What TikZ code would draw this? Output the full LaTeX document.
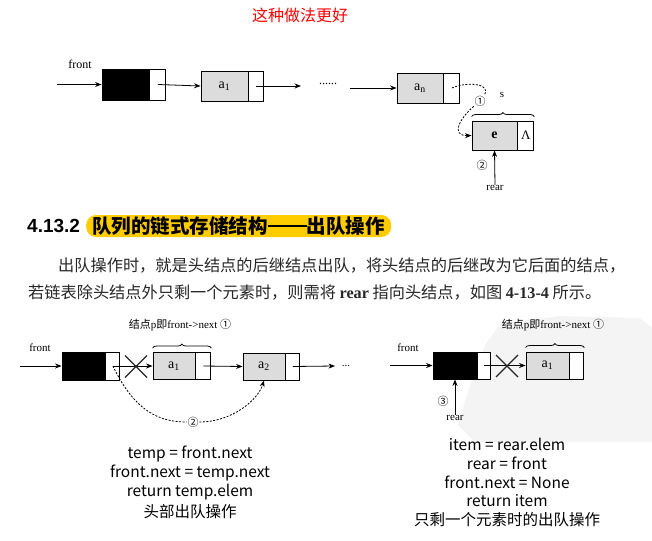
\documentclass[tikz,border=0pt]{standalone}
\usepackage{fontspec}
\setmainfont{Liberation Serif}
\newfontfamily\cjk{Noto Sans CJK SC}
\newfontfamily\hsans{Liberation Sans}
\usetikzlibrary{arrows.meta,decorations.pathreplacing}
\definecolor{nodegray}{RGB}{220,220,220}
\definecolor{hl}{RGB}{255,204,0}
\definecolor{titlered}{RGB}{255,0,0}
\newcommand{\cjkdash}{\rule[0.33em]{2em}{0.09em}}
\tikzset{
  arr/.style={-{Stealth[length=6.5pt,width=5pt]}, line width=0.8pt},
  datab/.style={draw, line width=0.9pt, fill=nodegray, minimum height=30pt, inner sep=0pt, font=\fontsize{14}{14}\selectfont},
  headb/.style={draw, line width=0.9pt, fill=black, minimum height=30pt, inner sep=0pt},
  ptrb/.style={draw, line width=0.9pt, fill=white, minimum height=30pt, inner sep=0pt, anchor=west},
  lbl/.style={font=\fontsize{11}{11}\selectfont, inner sep=0pt},
  circ/.style={font=\cjk\fontsize{11}{11}\selectfont, inner sep=0.6pt, fill=white},
  dashcon/.style={dashed, line width=0.8pt, dash pattern=on 2pt off 1.5pt},
  brc/.style={decorate, decoration={brace, amplitude=4pt}, line width=0.8pt},
  crossln/.style={line width=1.3pt, black!85},
  codetxt/.style={font=\cjk\fontsize{15.5}{15.5}\selectfont, inner sep=0pt},
  paratxt/.style={font=\cjk\fontsize{16.2}{16.2}\selectfont, inner sep=0pt, anchor=west, text=black!85}
}
\begin{document}
\begin{tikzpicture}[x=1pt,y=-1pt]
\useasboundingbox (0,0) rectangle (652,540);

% watermark
\fill[gray!9] (500,324) -- (560,316) -- (640,318) -- (652,328) -- (652,442) -- (475,442) -- (458,425) -- (470,385) -- (485,345) -- cycle;

% title
\node[text=titlered, font=\cjk\fontsize{16}{16}\selectfont] (title) at (300,15) {这种做法更好};

% ---------- top diagram ----------
\node[lbl, font=\fontsize{12}{12}\selectfont] (frontT) at (80,64) {front};
\node[headb, minimum width=47pt, minimum height=31pt] (hT) at (125.5,84.5) {};
\node[ptrb, minimum width=16pt, minimum height=31pt] (hTp) at (hT.east) {};
\node[datab, minimum width=47pt] (a1T) at (224.5,86) {a\textsubscript{1}};
\node[ptrb, minimum width=15pt] (a1Tp) at (a1T.east) {};
\node[datab, minimum width=46pt] (anT) at (420,88) {a\textsubscript{n}};
\node[ptrb, minimum width=16pt] (anTp) at (anT.east) {};
\node[datab, minimum width=45pt, minimum height=29pt, font=\bfseries\fontsize{14}{14}\selectfont] (eT) at (494.5,135.5) {e};
\node[ptrb, minimum width=16pt, minimum height=29pt, font=\fontsize{13}{13}\selectfont] (eTp) at (eT.east) {Λ};
\node[font=\fontsize{12}{12}\selectfont, inner sep=0pt] (dotsT) at (328,84) {......};
\node[lbl] (sT) at (502,95) {s};
\node[circ] (c1T) at (480,101) {①};
\node[circ] (c2T) at (482,165) {②};
\node[lbl] (rearT) at (495,188) {rear};
\coordinate (fT) at (57,84.5);
\coordinate (d1) at (301,86);
\coordinate (d2) at (350,88);

\draw[arr] (fT) -- (hT.west);
\draw[arr] (hTp.center) -- (a1T.west);
\draw[arr] (a1Tp.center) -- (d1);
\draw[arr] (d2) -- (anT.west);
\draw[brc] ([yshift=4pt]eT.north west) -- ([yshift=4pt]eTp.north east);
\draw[dashcon] (anTp.center) .. controls (468,81) and (492,84) .. (c1T);
\draw[dashcon, arr] (c1T) .. controls (460,118) and (450,136) .. (eT.west);
\draw[arr] (rearT.north) -- (eT.south);

% ---------- heading ----------
\node[anchor=west, inner sep=0pt, font=\hsans\bfseries\fontsize{19}{19}\selectfont] (secnum) at (27,226) {4.13.2};
\node[anchor=west, fill=hl, rounded corners=10pt, minimum height=22pt, minimum width=305pt, inner xsep=3pt, inner ysep=0pt,
      font=\cjk\bfseries\fontsize{19.5}{19.5}\selectfont] (sectitle) at (86,226) {队列的链式存储结构\cjkdash 出队操作};

\node[paratxt] (para1) at (58,266) {出队操作时，就是头结点的后继结点出队，将头结点的后继改为它后面的结点，};
\node[paratxt] (para2) at (28,293) {若链表除头结点外只剩一个元素时，则需将 {\rmfamily\bfseries rear} 指向头结点，如图 {\rmfamily\bfseries 4-13-4} 所示。};

% ---------- bottom left diagram ----------
\node[lbl] (lblL) at (180,325) {{\cjk 结点}p{\cjk 即}front->next {\cjk ①}};
\node[lbl] (frontL) at (40,348) {front};
\node[headb, minimum width=43pt, minimum height=28pt] (hL) at (83.5,366) {};
\node[ptrb, minimum width=14pt, minimum height=28pt] (hLp) at (hL.east) {};
\node[datab, minimum width=42pt, minimum height=27pt] (a1L) at (174,366) {a\textsubscript{1}};
\node[ptrb, minimum width=15pt, minimum height=27pt] (a1Lp) at (a1L.east) {};
\node[datab, minimum width=42pt, minimum height=27pt] (a2L) at (264,366.5) {a\textsubscript{2}};
\node[ptrb, minimum width=14pt, minimum height=27pt] (a2Lp) at (a2L.east) {};
\node[font=\fontsize{11}{11}\selectfont, inner sep=0pt] (dotsL) at (346,366) {...};
\node[circ] (c2L) at (193,422) {②};
\coordinate (fL) at (20,366);
\coordinate (eL) at (335,366);
\coordinate (xL) at (136,366.5);

\draw[arr] (fL) -- (hL.west);
\draw[arr] (hLp.center) -- (a1L.west);
\draw[arr] (a1Lp.center) -- (a2L.west);
\draw[arr] (a2Lp.center) -- (eL);
\draw[crossln] ([shift={(-11,-11)}]xL) -- ([shift={(11,11)}]xL);
\draw[crossln] ([shift={(-11,11)}]xL) -- ([shift={(11,-11)}]xL);
\draw[brc] ([yshift=4pt]a1L.north west) -- ([yshift=4pt]a1Lp.north east);
\draw[dashcon] (hLp.center) .. controls (135,412) and (160,422) .. (c2L);
\draw[dashcon, arr] (c2L) .. controls (232,422) and (258,400) .. (a2L.south);

% ---------- bottom right diagram ----------
\node[lbl] (lblR) at (553,325) {{\cjk 结点}p{\cjk 即}front->next {\cjk ①}};
\node[lbl] (frontR) at (408,348) {front};
\node[headb, minimum width=44pt, minimum height=27pt] (hR) at (455,365.5) {};
\node[ptrb, minimum width=13pt, minimum height=27pt] (hRp) at (hR.east) {};
\node[datab, minimum width=43pt, minimum height=27pt] (a1R) at (547.5,365.5) {a\textsubscript{1}};
\node[ptrb, minimum width=14pt, minimum height=27pt] (a1Rp) at (a1R.east) {};
\node[circ, fill=none] (c3R) at (443,401) {③};
\node[lbl] (rearR) at (455,418) {rear};
\coordinate (fR) at (390,365.5);
\coordinate (xR) at (507,366);

\draw[arr] (fR) -- (hR.west);
\draw[arr] (hRp.center) -- (a1R.west);
\draw[crossln] ([shift={(-11,-11)}]xR) -- ([shift={(11,11)}]xR);
\draw[crossln] ([shift={(-11,11)}]xR) -- ([shift={(11,-11)}]xR);
\draw[brc] ([yshift=4pt]a1R.north west) -- ([yshift=4pt]a1Rp.north east);
\draw[arr] (rearR.north) -- (hR.south);

% ---------- code texts ----------
\node[codetxt] (cl1) at (190,454) {temp = front.next};
\node[codetxt] (cl2) at (190,473) {front.next = temp.next};
\node[codetxt] (cl3) at (190,492) {return temp.elem};
\node[codetxt] (cl4) at (190,512) {头部出队操作};

\node[codetxt] (cr1) at (507,444) {item = rear.elem};
\node[codetxt] (cr2) at (507,463) {rear = front};
\node[codetxt] (cr3) at (507,482) {front.next = None};
\node[codetxt] (cr4) at (507,501) {return item};
\node[codetxt] (cr5) at (507,520) {只剩一个元素时的出队操作};
\end{tikzpicture}
\end{document}
